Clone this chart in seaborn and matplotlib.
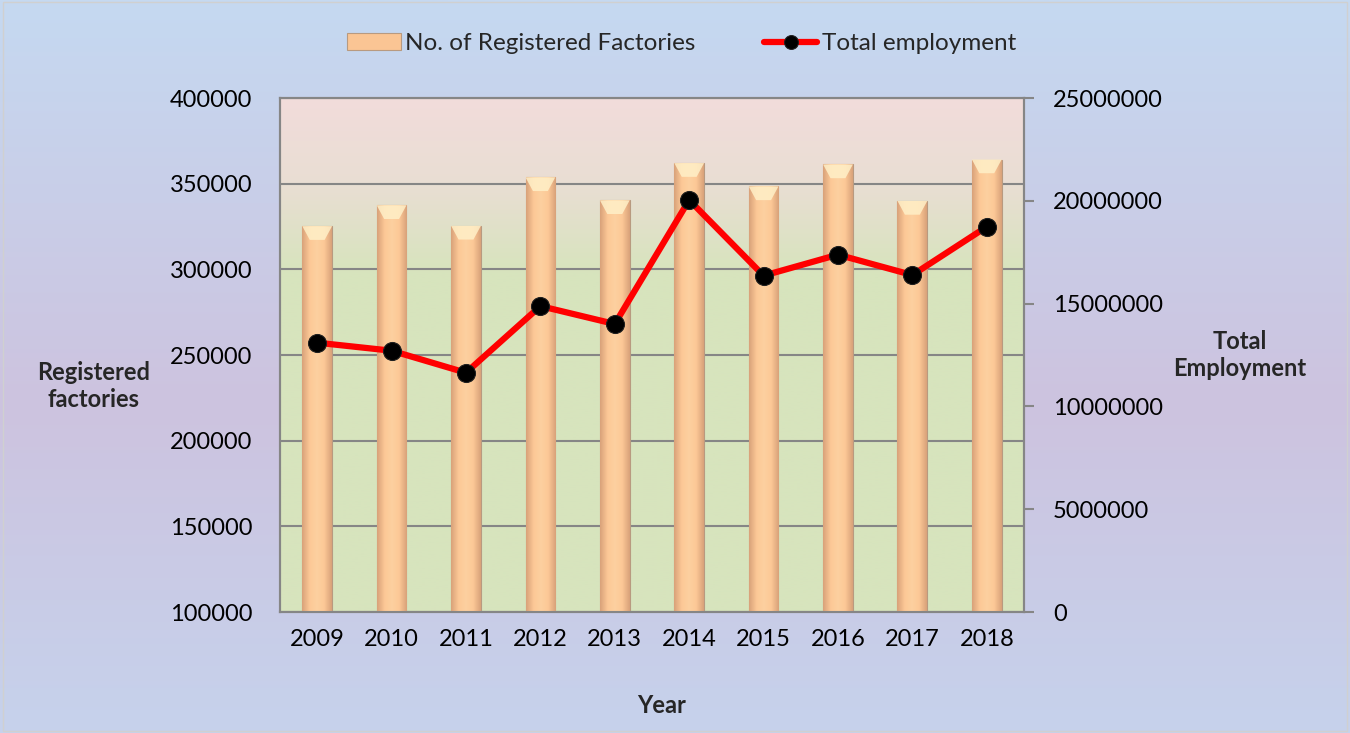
import numpy as np
import pandas as pd
import matplotlib.pyplot as plt
import seaborn as sns
from matplotlib.colors import LinearSegmentedColormap
from matplotlib.patches import Polygon
from matplotlib.ticker import FuncFormatter, MultipleLocator

years = ["2009", "2010", "2011", "2012", "2013", "2014", "2015", "2016", "2017", "2018"]
factories = [325200, 337400, 325400, 353700, 340300, 362000, 348400, 361200, 339900, 364100]
employment = [13100000, 12710000, 11640000, 14880000, 14010000,
              20040000, 16360000, 17380000, 16390000, 18740000]

df = pd.DataFrame({"year": years, "factories": factories, "employment": employment})

sns.set_theme(style="white")
plt.rcParams["font.family"] = ["Lato", "DejaVu Sans"]

fig = plt.figure(figsize=(13.5, 7.33), dpi=100)

# figure background gradient (blue -> lavender -> blue)
bg = fig.add_axes([0, 0, 1, 1], zorder=-10)
bg_cmap = LinearSegmentedColormap.from_list(
    "bg", [(0, "#c6d2ec"), (0.45, "#cdc3df"), (1.0, "#c5d9f1")])
bg.imshow(np.linspace(0, 1, 256).reshape(-1, 1), cmap=bg_cmap, origin="lower",
          aspect="auto", extent=[0, 1, 0, 1])
bg.set_axis_off()
fig.patches.append(plt.Rectangle((0.002, 0.003), 0.996, 0.994, transform=fig.transFigure,
                                 fill=False, edgecolor="#d0d0d0", lw=1))

ax = fig.add_axes([0.2074, 0.165, 0.5511, 0.7013])
ax.set_facecolor("none")

# plot area gradient (green bottom -> pink top)
pa_cmap = LinearSegmentedColormap.from_list(
    "pa", [(0, "#d7e4bd"), (0.66, "#d7e4bd"), (0.83, "#e9ded3"), (1.0, "#f2dcdb")])
ax.imshow(np.linspace(0, 1, 256).reshape(-1, 1), cmap=pa_cmap, origin="lower",
          aspect="auto", extent=[0, 1, 0, 1], transform=ax.transAxes, zorder=0)

sns.barplot(data=df, x="year", y="factories", ax=ax, color="#fac594", width=0.4,
            saturation=1, edgecolor="#b89a80", linewidth=0.8, zorder=3,
            label="No. of Registered Factories")

# shading on the bars for a bevelled look
shade = LinearSegmentedColormap.from_list(
    "shade", ["#d9a27a", "#fcc896", "#fdd0a0", "#fcc896", "#d9a27a"])
for p in ax.patches:
    x0, w = p.get_x(), p.get_width()
    top = p.get_height()
    im = ax.imshow(np.linspace(0, 1, 64).reshape(1, -1), cmap=shade, aspect="auto",
                   extent=[x0, x0 + w, 100000, top], zorder=3.5)
    im.set_clip_path(p)
    tri_h = 8000
    ax.add_patch(Polygon([[x0, top], [x0 + w, top], [x0 + w * 0.75, top - tri_h],
                          [x0 + w * 0.25, top - tri_h]],
                         closed=True, facecolor="#fff0c8", edgecolor="none",
                         alpha=0.85, zorder=3.6))
ax.set_ylim(100000, 400000)
ax.set_xlim(-0.5, len(years) - 0.5)

ax.yaxis.set_major_locator(MultipleLocator(50000))
ax.yaxis.set_major_formatter(FuncFormatter(lambda v, _: f"{int(v)}"))
ax.grid(axis="y", color="#868686", lw=1.5, zorder=1)
ax.set_axisbelow(True)
for s in ax.spines.values():
    s.set_color("#868686")
    s.set_linewidth(1.5)
ax.tick_params(axis="y", labelsize=17, pad=20, length=0, colors="black")
ax.tick_params(axis="x", labelsize=17, pad=12, length=0, colors="black")

ax2 = ax.twinx()
sns.lineplot(x=np.arange(len(years)), y=employment, ax=ax2, color="#ff0000", lw=4.5,
             marker="o", markersize=13, markerfacecolor="black", markeredgecolor="#202020",
             label="Total employment", zorder=5)
ax2.set_ylim(0, 25000000)
ax2.set_xlim(-0.5, len(years) - 0.5)
ax2.yaxis.set_major_locator(MultipleLocator(5000000))
ax2.yaxis.set_major_formatter(FuncFormatter(lambda v, _: f"{int(v)}"))
ax2.tick_params(axis="y", labelsize=17, pad=14, length=7, width=1.5, color="#868686",
                labelcolor="black")
for s in ax2.spines.values():
    s.set_color("#868686")
    s.set_linewidth(1.5)
ax2.grid(False)

ax.set_xlabel("Year", fontsize=17, fontweight="bold")
ax.xaxis.set_label_coords(0.513, -0.16)
ax.set_ylabel("Registered\nfactories", fontsize=17, fontweight="bold", rotation=0,
              ha="center", va="center")
ax.yaxis.set_label_coords(-0.25, 0.44)
ax2.set_ylabel("Total\nEmployment", fontsize=17, fontweight="bold", rotation=0,
               ha="center", va="center")
ax2.yaxis.set_label_coords(1.29, 0.5)

h1, l1 = ax.get_legend_handles_labels()
h2, l2 = ax2.get_legend_handles_labels()
for a in (ax, ax2):
    if a.get_legend():
        a.get_legend().remove()
leg = fig.legend(h1 + h2, l1 + l2, loc="center", bbox_to_anchor=(0.505, 0.94), ncol=2,
                 frameon=False, fontsize=17.5, handlelength=2.2, columnspacing=2.8,
                 handletextpad=0.2)
for lh in leg.legend_handles:
    if hasattr(lh, "set_markersize"):
        lh.set_markersize(10)

fig.savefig("out.png", dpi=100)
